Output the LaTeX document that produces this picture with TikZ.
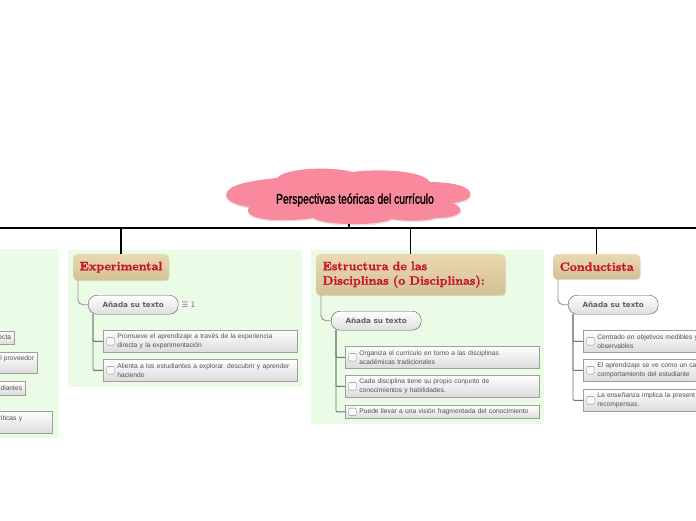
\documentclass[tikz,border=0pt]{standalone}
\usepackage{fontspec}
\usetikzlibrary{positioning,shadows}
\newfontfamily\itemfont{Liberation Sans}
\newfontfamily\pillfont{DejaVu Sans}
\newfontfamily\cloudfont[FakeStretch=0.74,FakeBold=1.3]{Liberation Sans}
\newfontfamily\titlefont[Extension=.otf,FakeBold=1.6]{lmroman10-bold}
\definecolor{panelgreen}{HTML}{EBFCE6}
\definecolor{titletan}{HTML}{E6D2A2}
\definecolor{titlered}{HTML}{C8102E}
\definecolor{cloudpink}{HTML}{F98A9E}
\definecolor{linkgray}{HTML}{6B756B}
\tikzset{
  panel/.style={fill=panelgreen,draw=none},
  titlebox/.style={anchor=north west,top color=titletan!85!white,bottom color=titletan!92!black,rounded corners=4pt,text=titlered,align=left,inner xsep=6.5pt,inner ysep=0pt,
    font=\titlefont\fontsize{12.2}{14.5}\selectfont,drop shadow={shadow xshift=0.6pt,shadow yshift=-1pt,opacity=0.25}},
  pillbox/.style={anchor=north west,rounded corners=9pt,draw=black!65,top color=white,bottom color=black!13,text=black!62,
    minimum width=90pt,minimum height=19pt,inner sep=0pt,font=\pillfont\fontsize{7.2}{9}\selectfont\bfseries},
  itembox/.style={anchor=north west,draw=black!38,line width=0.7pt,top color=white,bottom color=black!14,text=black!68,
    minimum width=194pt,inner xsep=0pt,inner ysep=0pt,text width=194pt,align=left,
    font=\itemfont\fontsize{6.7}{8.6}\selectfont,execute at begin node={\leftskip=14pt\relax}},
  stubbox/.style={anchor=north east,draw=black!38,line width=0.7pt,top color=white,bottom color=black!14,text=black!68,
    inner ysep=0pt,inner xsep=3.5pt,text width=93pt,align=right,font=\itemfont\fontsize{6.7}{8.6}\selectfont},
  checkbox/.style={draw=black!48,rounded corners=1pt,fill=black!2,minimum size=7.5pt,inner sep=0pt},
  link/.style={draw=linkgray,line width=0.9pt,rounded corners=1pt},
  rootlink/.style={draw=black!42,line width=0.9pt,rounded corners=5pt},
  bus/.style={draw=black,line width=1.5pt}
}
\begin{document}
\begin{tikzpicture}[x=1pt,y=-1pt]
\useasboundingbox (0,0) rectangle (696,520);
\clip (0,0) rectangle (696,520);
\fill[panel] (-10,249) rectangle (59,438);
\fill[panel] (68,250) rectangle (302,387);
\fill[panel] (311,250) rectangle (544,424);
\fill[cloudpink,drop shadow={shadow xshift=0.5pt,shadow yshift=-1.5pt,opacity=0.2}] (227,192)
  .. controls (232,183) and (258,180) .. (277,178)
  .. controls (285,168) and (330,166) .. (353,172)
  .. controls (370,169) and (422,169) .. (430,182)
  .. controls (450,182) and (474,186) .. (470,196)
  .. controls (469,200) and (460,202) .. (453,203)
  .. controls (468,210) and (460,218) .. (436,218)
  .. controls (425,222) and (400,221) .. (392,219)
  .. controls (380,226) and (325,226) .. (313,218)
  .. controls (290,222) and (240,222) .. (249,207)
  .. controls (240,206) and (222,201) .. (227,192) -- cycle;
\node[font=\cloudfont\fontsize{14}{16}\selectfont] (cloudTitle) at (355,200) {Perspectivas teóricas del currículo};
\coordinate (cloudFoot) at (349,224);
\coordinate (busLeft) at (0,228);
\coordinate (busRight) at (696,228);
\coordinate (busHub) at (349,228);
\draw[bus] (busLeft) -- (busRight);
\draw[bus] (cloudFoot) -- (busHub);

\node[titlebox,minimum width=95pt,minimum height=26pt] (expTitle) at (73,254) {Experimental};
\node[titlebox,text width=176pt,minimum height=41pt] (estTitle) at (316,254) {Estructura de las\\Disciplinas (o Disciplinas):};
\node[titlebox,minimum width=86pt,minimum height=25pt] (conTitle) at (553,254) {Conductista};
\draw[bus] (expTitle.north |- busLeft) -- (expTitle.north);
\draw[bus] (estTitle.north |- busLeft) -- (estTitle.north);
\draw[bus] (conTitle.north |- busLeft) -- (conTitle.north);

\node[pillbox] (expPill) at (88,295) {Añada su texto};
\node[pillbox] (estPill) at (331,311) {Añada su texto};
\node[pillbox] (conPill) at (568,295) {Añada su texto};
\node[fill=black!3,text=black!55,inner sep=1pt,font=\pillfont\fontsize{7.5}{9}\selectfont,right=2pt of expPill] (expCount) {☰ 1};
\coordinate (expRoot) at (78,280);
\coordinate (estRoot) at (321,295);
\coordinate (conRoot) at (558,279);
\draw[rootlink] (expRoot) |- (expPill.west);
\draw[rootlink] (estRoot) |- (estPill.west);
\draw[rootlink] (conRoot) |- (conPill.west);

\node[itembox,minimum height=22pt] (expA) at (103,330) {Promueve el aprendizaje a través de la experiencia\\directa y la experimentación};
\node[itembox,minimum height=22pt] (expB) at (103,359) {Alienta a los estudiantes a explorar, descubrir y aprender\\haciendo};
\node[itembox,minimum height=22pt] (estA) at (345,346) {Organiza el currículo en torno a las disciplinas\\académicas tradicionales};
\node[itembox,minimum height=22pt] (estB) at (345,375) {Cada disciplina tiene su propio conjunto de\\conocimientos y habilidades.};
\node[itembox,minimum height=13pt] (estC) at (345,405) {Puede llevar a una visión fragmentada del conocimiento};
\node[itembox,minimum height=22pt] (conA) at (583,330) {Centrado en objetivos medibles y\\observables};
\node[itembox,minimum height=22pt] (conB) at (583,359) {El aprendizaje se ve como un car\\comportamiento del estudiante};
\node[itembox,minimum height=22pt] (conC) at (583,389) {La enseñanza implica la present\\recompensas.};

\foreach \n in {expA,expB,estA,estB,estC,conA,conB,conC}
  \node[checkbox,xshift=7.5pt] (\n Check) at (\n.west) {};

\coordinate (expTrunk) at (93,314);
\coordinate (estTrunk) at (336,330);
\coordinate (conTrunk) at (573,314);
\draw[link] (expTrunk) |- (expA.west);
\draw[link] (expTrunk) |- (expB.west);
\draw[link] (estTrunk) |- (estA.west);
\draw[link] (estTrunk) |- (estB.west);
\draw[link] (estTrunk) |- (estC.west);
\draw[link] (conTrunk) |- (conA.west);
\draw[link] (conTrunk) |- (conB.west);
\draw[link] (conTrunk) |- (conC.west);

\node[stubbox,minimum height=13pt] (oldA) at (15,331) {ecta};
\node[stubbox,minimum height=21pt] (oldB) at (38,352) {l proveedor\\\phantom{x}};
\node[stubbox,minimum height=14pt] (oldC) at (26,381) {diantes};
\node[stubbox,minimum height=22pt] (oldD) at (53,411) {ríticas y\rule{27pt}{0pt}\\\phantom{x}};
\end{tikzpicture}
\end{document}
